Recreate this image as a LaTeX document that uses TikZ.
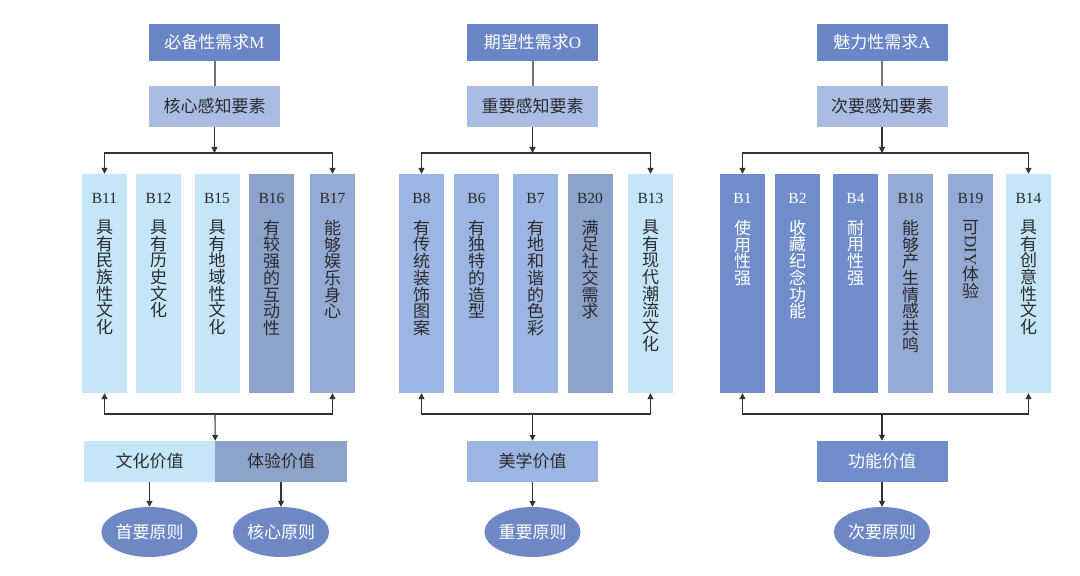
\documentclass[tikz,border=0pt]{standalone}
\usepackage{fontspec}
\setmainfont{Liberation Serif}
\newfontfamily\cjk{Noto Sans CJK SC}
\usepackage{graphicx}
\usetikzlibrary{positioning,arrows.meta,shapes.geometric}

\definecolor{cNeed}{HTML}{6A86C6}
\definecolor{cPerc}{HTML}{A9BCE4}
\definecolor{cSky}{HTML}{C5E6F8}
\definecolor{cSlate}{HTML}{8EA3CB}
\definecolor{cMist}{HTML}{95AAD4}
\definecolor{cMid}{HTML}{9CB5E2}
\definecolor{cDeep}{HTML}{6F8DCB}
\definecolor{cRule}{HTML}{6E88C6}
\definecolor{cInk}{HTML}{2B2B2B}

\tikzset{
  needbox/.style={rectangle, fill=cNeed, text=white, minimum width=131, minimum height=37, inner sep=0, font=\fontsize{17}{18}\selectfont\cjk},
  percbox/.style={rectangle, fill=cPerc, text=cInk, minimum width=131, minimum height=41, inner sep=0, font=\fontsize{17}{18}\selectfont\cjk},
  valbox/.style={rectangle, minimum width=131, minimum height=41, inner sep=0, font=\fontsize{17}{18}\selectfont\cjk},
  rulebox/.style={ellipse, fill=cRule, text=white, minimum width=95, minimum height=50, inner sep=0, font=\fontsize{17}{18}\selectfont\cjk},
  colbox/.style={rectangle, minimum width=45, minimum height=219, inner sep=0},
  collab/.style={inner sep=0, font=\fontsize{15.5}{17}\selectfont},
  coltxt/.style={anchor=north, align=center, inner sep=0, font=\fontsize{17}{16.7}\selectfont\cjk},
  arr/.style={-{Triangle[length=6pt,width=6pt]}, draw=black!80, line width=1.1pt},
  arrs/.style={{Triangle[length=6pt,width=6pt]}-{Triangle[length=6pt,width=6pt]}, draw=black!80, line width=1.1pt},
  link/.style={draw=black!55, line width=2pt}
}

% one attribute column: name, x, fill, text colour, label, text
\newcommand{\bcol}[6]{%
  \node[colbox, fill=#3] (#1) at (#2,292.5) {};
  \node[collab, text=#4] (#1l) at ([yshift=-25pt]#1.north) {#5};
  \node[coltxt, text=#4] (#1t) at ([yshift=-46pt]#1.north) {#6};
}

\begin{document}
\begin{tikzpicture}[x=1pt,y=1pt]
\fill[white] (0,0) rectangle (1080,576);
\useasboundingbox (0,0) rectangle (1080,576);

% must-be needs M
\node[needbox] (ma) at (214.5,533.5) {必备性需求{\rmfamily M}};
\node[percbox] (mb) at (214.5,469.5) {核心感知要素};
\draw[link] (ma) -- (mb);
\bcol{b11}{104.5}{cSky}{cInk}{B11}{具\\有\\民\\族\\性\\文\\化}
\bcol{b12}{158.5}{cSky}{cInk}{B12}{具\\有\\历\\史\\文\\化}
\bcol{b15}{217}{cSky}{cInk}{B15}{具\\有\\地\\域\\性\\文\\化}
\bcol{b16}{271.5}{cSlate}{cInk}{B16}{有\\较\\强\\的\\互\\动\\性}
\bcol{b17}{332.5}{cMist}{cInk}{B17}{能\\够\\娱\\乐\\身\\心}
\coordinate (mbar) at (214.5,423);
\coordinate (mlow) at (215,162);
\draw[arr] (mb) -- (mbar);
\draw[arrs] (b11.north) -- (b11.north |- mbar) -- (b17.north |- mbar) -- (b17.north);
\draw[arrs] (b11.south) -- (b11.south |- mlow) -- (b17.south |- mlow) -- (b17.south);
\node[valbox, fill=cSky, text=cInk] (cv) at (149.5,114.5) {文化价值};
\node[valbox, fill=cSlate, text=cInk, minimum width=132] (ev) at (281,114.5) {体验价值};
\draw[arr] (mlow) -- (cv.north east);
\node[rulebox] (p1) at (149.5,44) {首要原则};
\node[rulebox] (p2) at (281,44) {核心原则};
\draw[arr] (cv) -- (p1);
\draw[arr] (ev) -- (p2);

% one-dimensional needs O
\node[needbox] (oa) at (532.5,533.5) {期望性需求{\rmfamily O}};
\node[percbox] (ob) at (532.5,469.5) {重要感知要素};
\draw[link] (oa) -- (ob);
\bcol{b8}{421.5}{cMid}{cInk}{B8}{有\\传\\统\\装\\饰\\图\\案}
\bcol{b6}{476.5}{cMid}{cInk}{B6}{有\\独\\特\\的\\造\\型}
\bcol{b7}{535.5}{cMid}{cInk}{B7}{有\\地\\和\\谐\\的\\色\\彩}
\bcol{b20}{590}{cSlate}{cInk}{B20}{满\\足\\社\\交\\需\\求}
\bcol{b13}{650.5}{cSky}{cInk}{B13}{具\\有\\现\\代\\潮\\流\\文\\化}
\coordinate (obar) at (532.5,423);
\coordinate (olow) at (532.5,162);
\draw[arr] (ob) -- (obar);
\draw[arrs] (b8.north) -- (b8.north |- obar) -- (b13.north |- obar) -- (b13.north);
\draw[arrs] (b8.south) -- (b8.south |- olow) -- (b13.south |- olow) -- (b13.south);
\node[valbox, fill=cMid, text=cInk] (av) at (532.5,114.5) {美学价值};
\draw[arr] (olow) -- (av);
\node[rulebox] (p3) at (532.5,44) {重要原则};
\draw[arr] (av) -- (p3);

% attractive needs A
\node[needbox] (aa) at (882,533.5) {魅力性需求{\rmfamily A}};
\node[percbox] (ab) at (882,469.5) {次要感知要素};
\draw[link] (aa) -- (ab);
\bcol{b1}{742.5}{cDeep}{white}{B1}{使\\用\\性\\强}
\bcol{b2}{797.5}{cDeep}{white}{B2}{收\\藏\\纪\\念\\功\\能}
\bcol{b4}{855.5}{cDeep}{white}{B4}{耐\\用\\性\\强}
\bcol{b18}{910.5}{cMist}{cInk}{B18}{能\\够\\产\\生\\情\\感\\共\\鸣}
\bcol{b19}{970.5}{cMist}{cInk}{B19}{可\\\rotatebox[origin=c]{-90}{\rmfamily DIY}\\体\\验}
\bcol{b14}{1028.5}{cSky}{cInk}{B14}{具\\有\\创\\意\\性\\文\\化}
\coordinate (abar) at (882,423);
\coordinate (alow) at (882,162);
\draw[arr] (ab) -- (abar);
\draw[arrs] (b1.north) -- (b1.north |- abar) -- (b14.north |- abar) -- (b14.north);
\draw[arrs] (b1.south) -- (b1.south |- alow) -- (b14.south |- alow) -- (b14.south);
\node[valbox, fill=cDeep, text=white] (fv) at (882,114.5) {功能价值};
\draw[arr] (alow) -- (fv);
\node[rulebox] (p4) at (882,44) {次要原则};
\draw[arr] (fv) -- (p4);
\end{tikzpicture}
\end{document}
